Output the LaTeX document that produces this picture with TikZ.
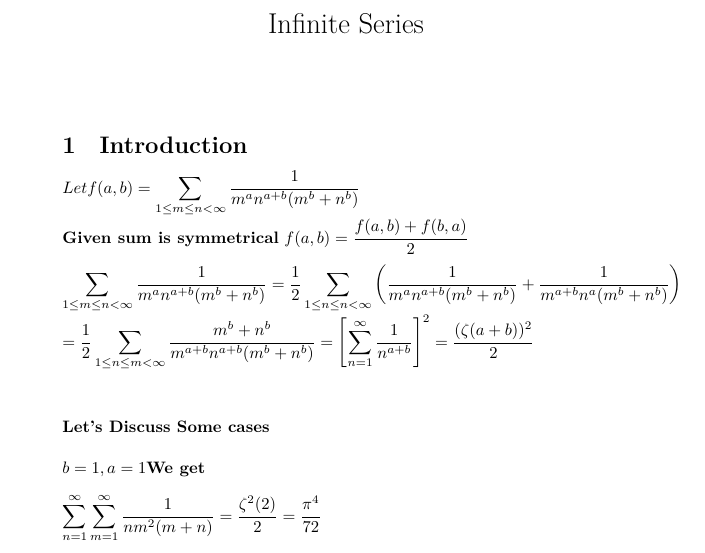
\documentclass[tikz,border=0pt]{standalone}
\usepackage{amsmath}
\usetikzlibrary{positioning}

\begin{document}
\begin{tikzpicture}[x=0.6035pt,y=-0.6035pt,
		line/.style={anchor=base west,inner sep=0pt}]
		\useasboundingbox (0,0) rectangle (705,553);
		\node[anchor=base,inner sep=0pt] (T) at (346,33) {\LARGE Infinite Series};
		\node[line] (S) at (62,153) {\Large\bfseries 1\quad Introduction};

		\node[line] (L1) at (62,193) {$\displaystyle Let f(a,b)=\sum_{1\leq m\leq n<\infty}\frac{1}{m^an^{a+b}(m^b+n^b)}$};
		\node[line] (L2) at (62,243) {\textbf{Given sum is symmetrical} $\displaystyle f(a,b)=\frac{f(a,b)+f(b,a)}{2}$};
		\node[line] (L3) at (62,289) {$\displaystyle \sum_{1\leq m\leq n<\infty}\frac{1}{m^an^{a+b}(m^b+n^b)}=\frac{1}{2}\sum_{1\leq n\leq n<\infty}\left(\frac{1}{m^an^{a+b}(m^b+n^b)}+\frac{1}{m^{a+b}n^a(m^b+n^b)}\right)$};
		\node[line] (L4) at (62,347) {$\displaystyle =\frac{1}{2}\sum_{1\leq n\leq m<\infty}\frac{m^b+n^b}{m^{a+b}n^{a+b}(m^b+n^b)}=\left[\sum_{n=1}^{\infty}\frac{1}{n^{a+b}}\right]^2=\frac{(\zeta(a+b))^2}{2}$};

		\node[line] (D) at (62,432) {\bfseries Let's Discuss Some cases};
		\node[line] (C1) at (62,473) {$b=1,a=1$\textbf{We get}};
		\node[line] (C2) at (62,521) {$\displaystyle \sum_{n=1}^{\infty}\sum_{m=1}^{\infty}\frac{1}{nm^2(m+n)}=\frac{\zeta^2(2)}{2}=\frac{\pi^4}{72}$};
	\end{tikzpicture}
\end{document}
